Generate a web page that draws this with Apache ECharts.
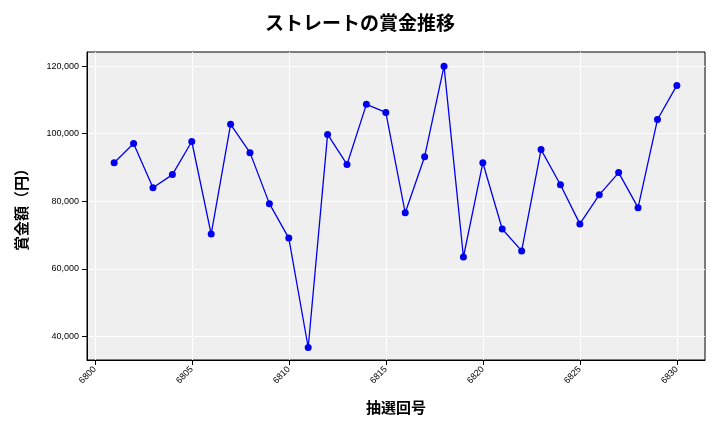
<!DOCTYPE html><html><head><meta charset="utf-8"><script src="https://cdn.jsdelivr.net/npm/echarts@6/dist/echarts.min.js"></script></head><body style="margin:0"><div id="c" style="width:720px;height:432px"></div><script>
const draws=[6801,6802,6803,6804,6805,6806,6807,6808,6809,6810,6811,6812,6813,6814,6815,6816,6817,6818,6819,6820,6821,6822,6823,6824,6825,6826,6827,6828,6829,6830];
const prizes=[91400,97100,84000,87900,97700,70300,102800,94400,79300,69100,36700,99800,90900,108700,106300,76600,93200,120000,63500,91400,71800,65300,95300,84900,73300,81900,88500,78100,104200,114300];
const xTicks=[6800,6805,6810,6815,6820,6825,6830];
const yTicks=[40000,60000,80000,100000,120000];
const F='"Noto Sans CJK JP"';
const c=echarts.init(document.getElementById('c'));
c.setOption({backgroundColor:'#fff',
title:{text:'ストレートの賞金推移',left:'center',top:8,textStyle:{fontFamily:F,fontSize:19,fontWeight:'bold',color:'#000'}},
grid:{left:87,right:15,top:52,bottom:72,backgroundColor:'#efefef',show:true,borderWidth:1,borderColor:'#000'},
xAxis:{type:'value',min:6799.6,max:6831.45,name:'抽選回号',nameLocation:'middle',nameGap:40,nameTextStyle:{fontFamily:F,fontSize:15,fontWeight:'bold',color:'#000'},
axisLabel:{rotate:45,fontSize:9,color:'#000',customValues:xTicks,formatter:v=>String(v)},
axisTick:{customValues:xTicks,lineStyle:{color:'#000'}},axisLine:{lineStyle:{color:'#000'}},
splitLine:{show:true,lineStyle:{color:'#fff',width:1}}},
yAxis:{type:'value',min:33000,max:124200,name:'賞金額（円）',nameLocation:'middle',nameGap:58,nameTextStyle:{fontFamily:F,fontSize:15,fontWeight:'bold',color:'#000'},
axisLabel:{fontSize:9,color:'#000',customValues:yTicks,formatter:v=>v.toLocaleString('en-US')},
axisTick:{show:true,customValues:yTicks,lineStyle:{color:'#000'}},axisLine:{show:true,lineStyle:{color:'#000'}},
splitLine:{show:true,lineStyle:{color:'#fff'}}},
series:[{type:'line',data:draws.map((d,i)=>[d,prizes[i]]),symbol:'circle',symbolSize:7,itemStyle:{color:'#0000ee'},lineStyle:{color:'#0000ee',width:1.3}}]});
</script></body></html>
